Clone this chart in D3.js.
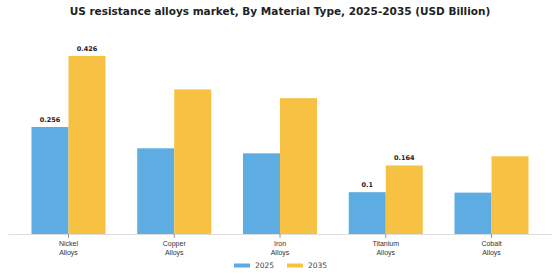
<!DOCTYPE html>
<html>
<head>
<meta charset="utf-8">
<style>
  body { margin: 0; background: #fff; }
  svg { display: block; font-family: "DejaVu Sans", sans-serif; }
</style>
</head>
<body>
<svg id="chart"></svg>
<script src="https://d3js.org/d3.v7.min.js"></script>
<script>
// data
const categories = ["Nickel Alloys", "Copper Alloys", "Iron Alloys", "Titanium Alloys", "Cobalt Alloys"];
const years = ["2025", "2035"];
const values2025 = [0.256, 0.205, 0.193, 0.1, 0.099];
const values2035 = [0.426, 0.346, 0.325, 0.164, 0.186];
const labelled = [0, 3]; // only these groups carry value labels

const width = 560, height = 280;
const colors = {"2025": "#5DADE2", "2035": "#F7C244"};
const baseline = 234;

const svg = d3.select("#chart").attr("width", width).attr("height", height);

svg.append("text")
    .attr("x", 280).attr("y", 15)
    .attr("text-anchor", "middle")
    .attr("font-size", 10.5).attr("font-weight", "bold")
    .attr("fill", "#222")
    .text("US resistance alloys market, By Material Type, 2025-2035 (USD Billion)");

const x = d3.scaleBand()
    .domain(categories)
    .range([8, 552])
    .paddingInner(0.3)
    .paddingOuter(0.222);

const xs = d3.scaleBand().domain(years).range([0, x.bandwidth()]);

const y = d3.scaleLinear().domain([0, 0.43]).range([baseline, baseline - 0.43 * 418]);

const rows = categories.map((c, i) => ({cat: c, i: i, vals: [values2025[i], values2035[i]]}));

const g = svg.append("g").selectAll("g").data(rows).join("g")
    .attr("transform", d => `translate(${x(d.cat)},0)`);

g.selectAll("rect")
    .data(d => years.map((yr, k) => ({yr: yr, v: d.vals[k], i: d.i})))
    .join("rect")
    .attr("x", d => xs(d.yr))
    .attr("width", xs.bandwidth())
    .attr("y", d => y(d.v))
    .attr("height", d => baseline - y(d.v))
    .attr("fill", d => colors[d.yr]);

g.filter(d => labelled.includes(d.i)).selectAll("text.val")
    .data(d => years.map((yr, k) => ({yr: yr, v: d.vals[k]})))
    .join("text")
    .attr("class", "val")
    .attr("x", d => xs(d.yr) + xs.bandwidth() / 2)
    .attr("y", d => y(d.v) - 5)
    .attr("text-anchor", "middle")
    .attr("font-size", 6.5).attr("font-weight", "bold")
    .attr("fill", "#222")
    .text(d => d.v);

// x axis
const xAxis = svg.append("g")
    .attr("transform", `translate(0,${baseline})`)
    .call(d3.axisBottom(x).tickSize(4).tickSizeOuter(0).tickFormat(""));
xAxis.select(".domain").attr("stroke", "#ddd");
xAxis.selectAll(".tick line").attr("stroke", "#999");

xAxis.selectAll(".tick").each(function(d) {
    const parts = d.split(" ");
    const t = d3.select(this).append("text")
        .attr("fill", "#333")
        .attr("font-size", 7)
        .attr("text-anchor", "middle");
    parts.forEach((p, k) => {
        t.append("tspan").attr("x", 0).attr("y", 12 + k * 9).text(p);
    });
});

// legend
const legend = svg.append("g").attr("transform", "translate(234,265)");
const li = legend.selectAll("g").data(years).join("g")
    .attr("transform", (d, k) => `translate(${k * 53},0)`);
li.append("rect").attr("x", 0).attr("y", -1.5).attr("width", 16).attr("height", 4)
    .attr("fill", d => colors[d]);
li.append("text").attr("x", 21).attr("y", 3).attr("font-size", 7.5).attr("fill", "#444")
    .text(d => d);
</script>
</body>
</html>
